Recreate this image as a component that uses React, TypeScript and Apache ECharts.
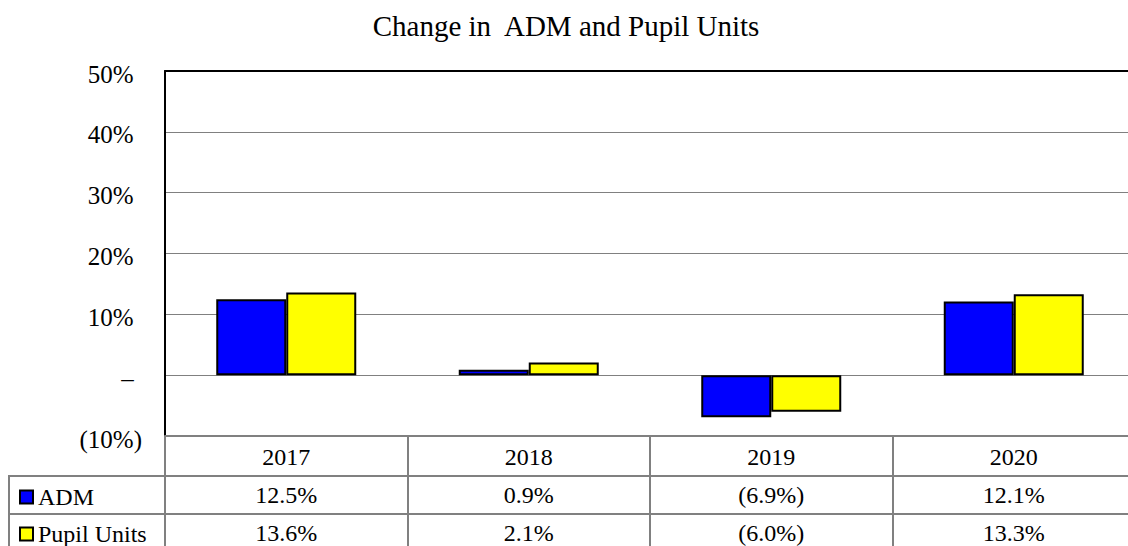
import React, { useEffect, useRef } from "react";
import * as echarts from "echarts";

const title = "Change in  ADM and Pupil Units";
const years = ["2017", "2018", "2019", "2020"];
const seriesNames = ["ADM", "Pupil Units"];
const adm = [12.5, 0.9, -6.9, 12.1];
const pupilUnits = [13.6, 2.1, -6.0, 13.3];
const yMin = -10;
const yMax = 50;
const yStep = 10;

const FONT = "'Liberation Serif', 'Times New Roman', serif";

const fmtTable = (v: number) =>
  v < 0 ? `(${Math.abs(v).toFixed(1)}%)` : `${v.toFixed(1)}%`;

const fmtAxis = (v: number) => {
  if (v < 0) return `{n|(${Math.abs(v)}%)}`;
  if (v === 0) return `{n|–}{h|)}`;
  return `{n|${v}%}{h|)}`;
};

export default function App() {
  const ref = useRef<HTMLDivElement>(null);
  useEffect(() => {
    if (!ref.current) return;
    const chart = echarts.init(ref.current, undefined, { renderer: "svg" });
    const gray = "#808080";
    const legendBase = {
      orient: "horizontal",
      left: 14,
      itemWidth: 13,
      itemHeight: 13,
      icon: "rect",
      selectedMode: false,
      itemStyle: { borderColor: "#000", borderWidth: 2 },
      textStyle: {
        fontFamily: FONT,
        fontSize: 24,
        color: "#000",
        lineHeight: 24,
      },
    };
    chart.setOption({
      animation: false,
      backgroundColor: "#fff",
      title: {
        text: title,
        left: 561,
        top: 6,
        textAlign: "center",
        textStyle: {
          fontFamily: FONT,
          fontSize: 29,
          fontWeight: "normal",
          color: "#000",
        },
      },
      legend: [
        { ...legendBase, top: 480, data: [seriesNames[0]] },
        { ...legendBase, top: 517, data: [seriesNames[1]] },
      ],
      grid: { left: 165, right: 5, top: 71, bottom: 110, containLabel: false },
      xAxis: [
        {
          type: "category",
          data: years,
          position: "bottom",
          axisLine: { show: true, onZero: false, lineStyle: { color: gray, width: 2 } },
          axisTick: {
            show: true,
            inside: false,
            length: 112,
            lineStyle: { color: gray, width: 2 },
          },
          axisLabel: {
            margin: 2,
            interval: 0,
            formatter: (value: string, index: number) =>
              `{y|${value}}\n{v|${fmtTable(adm[index])}}\n{v|${fmtTable(pupilUnits[index])}}`,
            rich: {
              y: { fontFamily: FONT, fontSize: 24, lineHeight: 38, color: "#000" },
              v: { fontFamily: FONT, fontSize: 24, lineHeight: 38, color: "#000" },
            },
          },
          splitLine: { show: false },
        },
        {
          type: "category",
          data: years,
          position: "top",
          axisLine: { show: true, onZero: false, lineStyle: { color: "#000", width: 2 } },
          axisTick: { show: false },
          axisLabel: { show: false },
        },
      ],
      yAxis: {
        type: "value",
        min: yMin,
        max: yMax,
        interval: yStep,
        axisLine: { show: true, lineStyle: { color: "#000", width: 2 } },
        axisTick: { show: false },
        splitLine: { show: true, lineStyle: { color: gray, width: 1 } },
        axisLabel: {
          margin: 23,
          padding: [6, 0, 0, 0],
          formatter: (v: number) => fmtAxis(v),
          rich: {
            n: { fontFamily: FONT, fontSize: 25, color: "#000" },
            h: { fontFamily: FONT, fontSize: 25, color: "rgba(0,0,0,0)" },
          },
        },
      },
      series: [
        {
          name: seriesNames[0],
          type: "bar",
          data: adm,
          barWidth: 70,
          barGap: "0%",
          itemStyle: { color: "#0000FF", borderColor: "#000", borderWidth: 2 },
        },
        {
          name: seriesNames[1],
          type: "bar",
          data: pupilUnits,
          barWidth: 70,
          barGap: "0%",
          itemStyle: { color: "#FFFF00", borderColor: "#000", borderWidth: 2 },
        },
      ],
      graphic: [
        {
          type: "line",
          shape: { x1: 8, y1: 476, x2: 1140, y2: 476 },
          style: { stroke: gray, lineWidth: 2 },
          z: 10,
        },
        {
          type: "line",
          shape: { x1: 8, y1: 514, x2: 1140, y2: 514 },
          style: { stroke: gray, lineWidth: 2 },
          z: 10,
        },
        {
          type: "line",
          shape: { x1: 9, y1: 475, x2: 9, y2: 546 },
          style: { stroke: gray, lineWidth: 2 },
          z: 10,
        },
      ],
    });
    return () => chart.dispose();
  }, []);
  return (
    <div
      style={{
        position: "fixed",
        left: 0,
        top: 0,
        width: 1128,
        height: 546,
        overflow: "hidden",
        background: "#fff",
      }}
    >
      <div ref={ref} style={{ width: 1140, height: 546 }} />
    </div>
  );
}
